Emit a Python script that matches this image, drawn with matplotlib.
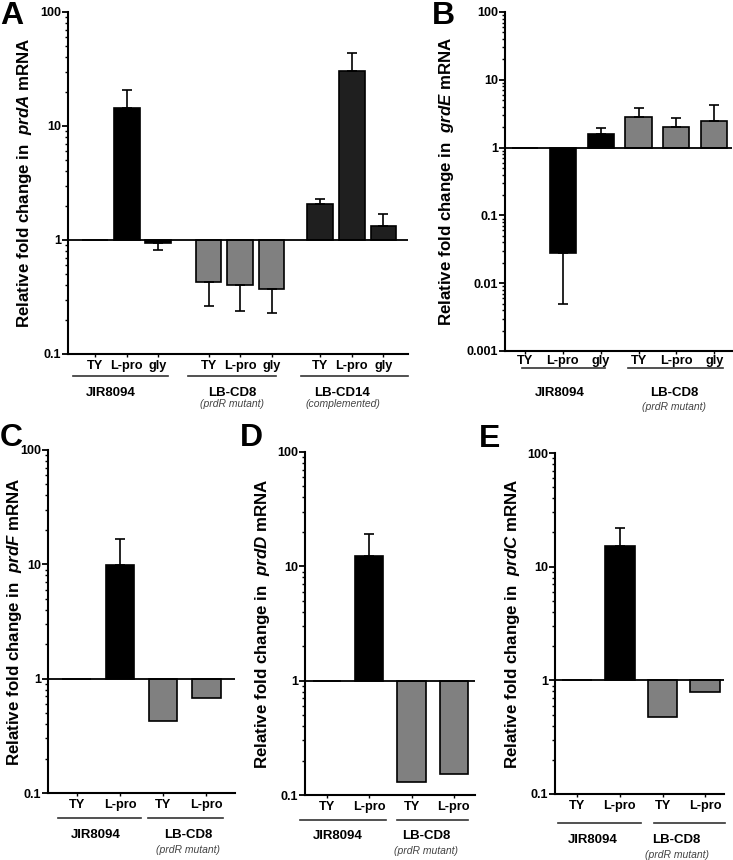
import numpy as np
import matplotlib.pyplot as plt
from matplotlib import ticker, transforms

plt.rcParams['font.family'] = 'Liberation Sans'
plt.rcParams['font.weight'] = 'bold'
plt.rcParams['mathtext.fontset'] = 'custom'
plt.rcParams['mathtext.rm'] = 'Liberation Sans:bold'
plt.rcParams['mathtext.it'] = 'Liberation Sans:italic:bold'

W, H = 733, 860
BLACK, GRAY, DARK = '#000000', '#808080', '#1f1f1f'

# ----------------------------
# Data (fold change relative to 1, error bar tips)
# ----------------------------
a_conds = ['TY', 'L-pro', 'gly', 'TY', 'L-pro', 'gly', 'TY', 'L-pro', 'gly']
a_vals = [1.0, 14.4, 0.935, 0.425, 0.403, 0.369, 2.07, 30.6, 1.33]
a_tips = [np.nan, 20.7, 0.817, 0.265, 0.237, 0.229, 2.30, 44.0, 1.69]
a_groups = ['JIR8094', 'LB-CD8', 'LB-CD14']
a_subs = ['', '(prdR mutant)', '(complemented)']

b_conds = ['TY', 'L-pro', 'gly', 'TY', 'L-pro', 'gly']
b_vals = [1.0, 0.0279, 1.59, 2.80, 2.02, 2.44]
b_tips = [np.nan, 0.00494, 1.97, 3.89, 2.77, 4.26]
b_groups = ['JIR8094', 'LB-CD8']
b_subs = ['', '(prdR mutant)']

cde_conds = ['TY', 'L-pro', 'TY', 'L-pro']
c_vals = [1.0, 9.93, 0.423, 0.677]
c_tips = [np.nan, 16.5, np.nan, np.nan]
d_vals = [1.0, 12.4, 0.130, 0.154]
d_tips = [np.nan, 19.1, np.nan, np.nan]
e_vals = [1.0, 15.1, 0.472, 0.784]
e_tips = [np.nan, 21.9, np.nan, np.nan]
cde_groups = ['JIR8094', 'LB-CD8']
cde_subs = ['', '(prdR mutant)']

fig = plt.figure(figsize=(W / 100, H / 100), dpi=100)


def draw_panel(box, pos, vals, tips, colors, width, xlim, ylim, ylabel, label_x,
               conds, groups, subs, group_spans, label_centers, rows, letter, xpad=2):
    left, right, top, bottom = box
    ax = fig.add_axes([left / W, 1 - bottom / H, (right - left) / W, (bottom - top) / H])
    vals = np.array(vals)
    tips = np.array(tips)
    ax.bar(pos, vals - 1, bottom=1, width=width, color=colors,
           edgecolor='black', linewidth=1.2, zorder=2)
    for x, v, t in zip(pos, vals, tips):
        if np.isnan(t):
            continue
        lo, hi = (0, t - v) if t > v else (v - t, 0)
        ax.errorbar(x, v, yerr=[[lo], [hi]], fmt='none', ecolor='black',
                    elinewidth=1.2, capsize=3.6, capthick=1.2, zorder=3)
    ax.axhline(1, color='black', lw=1.3, zorder=4)
    ax.set_yscale('log')
    ax.set_ylim(*ylim)
    ax.set_xlim(*xlim)
    majors = [10.0 ** k for k in range(int(np.log10(ylim[0])), int(np.log10(ylim[1])) + 1)]
    ax.yaxis.set_major_locator(ticker.FixedLocator(majors))
    ax.yaxis.set_major_formatter(ticker.FixedFormatter([f'{m:g}' for m in majors]))
    ax.yaxis.set_minor_locator(ticker.LogLocator(subs=np.arange(2, 10), numticks=20))
    ax.yaxis.set_minor_formatter(ticker.NullFormatter())
    ax.tick_params(axis='y', which='major', length=4, width=1.3, labelsize=9, pad=1)
    ax.tick_params(axis='y', which='minor', length=2.5, width=1.0)
    ax.set_xticks(pos, conds)
    ax.tick_params(axis='x', length=2.5, width=1.0, labelsize=9.2, pad=xpad)
    for s in ['top', 'right']:
        ax.spines[s].set_visible(False)
    for s in ['left', 'bottom']:
        ax.spines[s].set_linewidth(1.5)

    trans = transforms.blended_transform_factory(ax.transData, fig.transFigure)
    line_y, name_y, sub_y = rows
    for (x0, x1), name, sub, cx in zip(group_spans, groups, subs, label_centers):
        ax.plot([x0, x1], [1 - line_y / H] * 2, color='#333333', lw=1.2,
                transform=trans, clip_on=False)
        ax.text(cx, 1 - name_y / H, name, transform=trans, ha='center', va='center',
                fontsize=9.5)
        if sub:
            ax.text(cx, 1 - sub_y / H, sub, transform=trans, ha='center', va='center',
                    fontsize=7.5, fontweight='normal', style='italic', color='#444444')

    fig.text(label_x / W, 1 - (top + bottom) / 2 / H, ylabel, rotation=90,
             ha='center', va='center', fontsize=12.2)
    fig.text(letter[1] / W, 1 - letter[2] / H, letter[0], ha='left', va='top',
             fontsize=23, fontweight='bold')
    return ax


# Panel A
a_pos = [0, 1, 2, 3.6, 4.6, 5.6, 7.15, 8.15, 9.15]
a_cols = [BLACK] * 3 + [GRAY] * 3 + [DARK] * 3
draw_panel((68, 408, 12, 354), a_pos, a_vals, a_tips, a_cols, 0.82, (-0.86, 9.93),
           (0.1, 100), 'Relative fold change in  $\\mathit{prdA}$ mRNA', 25,
           a_conds, a_groups, a_subs,
           [(-0.7, 2.3), (2.95, 5.75), (6.55, 9.93)], [0.5, 4.35, 7.85],
           (376, 393, 404), ('A', 0, 1))

# Panel B
b_pos = [0, 1, 2, 3, 4, 5]
b_cols = [BLACK] * 3 + [GRAY] * 3
draw_panel((505, 732, 12, 351), b_pos, b_vals, b_tips, b_cols, 0.69, (-0.53, 5.47),
           (0.001, 100), 'Relative fold change in  $\\mathit{grdE}$ mRNA', 447,
           b_conds, b_groups, b_subs,
           [(-0.08, 2.12), (2.72, 5.24)], [0.92, 3.95],
           (368, 393, 407), ('B', 432, 1), xpad=0.3)

# Panels C, D, E
cde_pos = [0, 1, 2, 3]
cde_cols = [BLACK] * 2 + [GRAY] * 2
draw_panel((48, 235, 450, 793), cde_pos, c_vals, c_tips, cde_cols, 0.67, (-0.67, 3.67),
           (0.1, 100), 'Relative fold change in  $\\mathit{prdF}$ mRNA', 15,
           cde_conds, cde_groups, cde_subs,
           [(-0.44, 1.49), (1.65, 3.4)], [0.44, 2.58],
           (818, 835, 850), ('C', 0, 423))
draw_panel((305, 475, 452, 795), cde_pos, d_vals, d_tips, cde_cols, 0.67, (-0.52, 3.5),
           (0.1, 100), 'Relative fold change in  $\\mathit{prdD}$ mRNA', 263,
           cde_conds, cde_groups, cde_subs,
           [(-0.64, 1.39), (1.65, 3.33)], [0.25, 2.35],
           (820, 836, 851), ('D', 240, 423))
draw_panel((555, 724, 453, 794), cde_pos, e_vals, e_tips, cde_cols, 0.69, (-0.52, 3.44),
           (0.1, 100), 'Relative fold change in  $\\mathit{prdC}$ mRNA', 512,
           cde_conds, cde_groups, cde_subs,
           [(-0.45, 1.5), (1.8, 3.47)], [0.36, 2.33],
           (823, 840, 855), ('E', 479, 424))

plt.savefig('out.png', dpi=100)
